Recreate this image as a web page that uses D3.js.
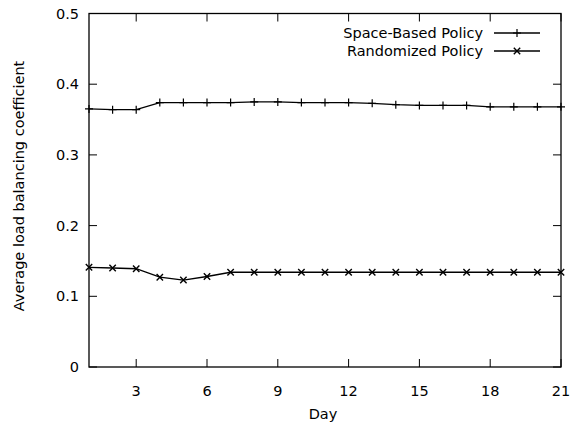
<!DOCTYPE html>
<html>
<head>
<meta charset="utf-8">
<script src="https://cdn.jsdelivr.net/npm/d3@7"></script>
<style>
  html, body { margin: 0; padding: 0; background: #fff; }
  text { font-family: "DejaVu Sans", Verdana, sans-serif; fill: #000; }
</style>
</head>
<body>
<svg id="chart" width="575" height="425"></svg>
<script>
// Days 1..21
const days = d3.range(1, 22);
const spaceBased = [0.365, 0.364, 0.364, 0.374, 0.374, 0.374, 0.374, 0.375, 0.375, 0.374,
                    0.374, 0.374, 0.373, 0.371, 0.370, 0.370, 0.370, 0.368, 0.368, 0.368, 0.368];
const randomized = [0.141, 0.140, 0.139, 0.127, 0.123, 0.128, 0.134, 0.134, 0.134, 0.134,
                    0.134, 0.134, 0.134, 0.134, 0.134, 0.134, 0.134, 0.134, 0.134, 0.134, 0.134];
const xTicks = [3, 6, 9, 12, 15, 18, 21];
const yTicks = [0, 0.1, 0.2, 0.3, 0.4, 0.5];
const yTickLabels = ["0", "0.1", "0.2", "0.3", "0.4", "0.5"];
const seriesNames = ["Space-Based Policy", "Randomized Policy"];

const svg = d3.select("#chart");
const m = { left: 89, right: 561, top: 13.5, bottom: 367 };

const x = d3.scaleLinear().domain([1, 21]).range([m.left, m.right]);
const y = d3.scaleLinear().domain([0, 0.5]).range([m.bottom, m.top]);

const ink = "#000";
const tickLen = 8;
const fs = 14.5;

// Ticks on all four sides, pointing inward
const g = svg.append("g");
xTicks.forEach(t => {
  g.append("line").attr("x1", x(t)).attr("x2", x(t)).attr("y1", m.bottom).attr("y2", m.bottom - tickLen)
    .attr("stroke", ink).attr("stroke-width", 1);
  g.append("line").attr("x1", x(t)).attr("x2", x(t)).attr("y1", m.top).attr("y2", m.top + tickLen)
    .attr("stroke", ink).attr("stroke-width", 1);
  g.append("text").attr("x", x(t)).attr("y", m.bottom + 29).attr("text-anchor", "middle")
    .attr("font-size", fs).text(t);
});
yTicks.forEach((t, i) => {
  g.append("line").attr("x1", m.left).attr("x2", m.left + tickLen).attr("y1", y(t)).attr("y2", y(t))
    .attr("stroke", ink).attr("stroke-width", 1);
  g.append("line").attr("x1", m.right).attr("x2", m.right - tickLen).attr("y1", y(t)).attr("y2", y(t))
    .attr("stroke", ink).attr("stroke-width", 1);
  g.append("text").attr("x", m.left - 10).attr("y", y(t) + 5).attr("text-anchor", "end")
    .attr("font-size", fs).text(yTickLabels[i]);
});

// Frame
svg.append("rect").attr("x", m.left).attr("y", m.top)
  .attr("width", m.right - m.left).attr("height", m.bottom - m.top)
  .attr("fill", "none").attr("stroke", ink).attr("stroke-width", 1.3);

// Axis titles
svg.append("text").attr("x", 323).attr("y", 419).attr("text-anchor", "middle")
  .attr("font-size", fs).text("Day");
svg.append("text").attr("transform", "translate(24,186) rotate(-90)")
  .attr("text-anchor", "middle").attr("font-size", fs).text("Average load balancing coefficient");

// Point glyphs
function plus(sel, cx, cy) {
  const s = 4;
  sel.append("path").attr("d", `M${cx - s},${cy}H${cx + s}M${cx},${cy - s}V${cy + s}`)
    .attr("stroke", ink).attr("stroke-width", 1.2).attr("fill", "none");
}
function cross(sel, cx, cy) {
  const s = 3.2;
  sel.append("path").attr("d", `M${cx - s},${cy - s}L${cx + s},${cy + s}M${cx - s},${cy + s}L${cx + s},${cy - s}`)
    .attr("stroke", ink).attr("stroke-width", 1.4).attr("fill", "none");
}

const line = d3.line().x(d => x(d[0])).y(d => y(d[1]));
const series = [
  { name: seriesNames[0], values: spaceBased, glyph: plus },
  { name: seriesNames[1], values: randomized, glyph: cross }
];

series.forEach((s, i) => {
  const pts = days.map((d, k) => [d, s.values[k]]);
  svg.append("path").attr("d", line(pts)).attr("fill", "none")
    .attr("stroke", ink).attr("stroke-width", 1.3);
  const pg = svg.append("g");
  pts.forEach(p => s.glyph(pg, x(p[0]), y(p[1])));

  // Legend entry
  const ly = 33 + i * 18;
  svg.append("text").attr("x", 483).attr("y", ly + 5).attr("text-anchor", "end")
    .attr("font-size", fs).text(s.name);
  svg.append("line").attr("x1", 494).attr("x2", 540).attr("y1", ly).attr("y2", ly)
    .attr("stroke", ink).attr("stroke-width", 1.3);
  s.glyph(svg, 517, ly);
});
</script>
</body>
</html>
